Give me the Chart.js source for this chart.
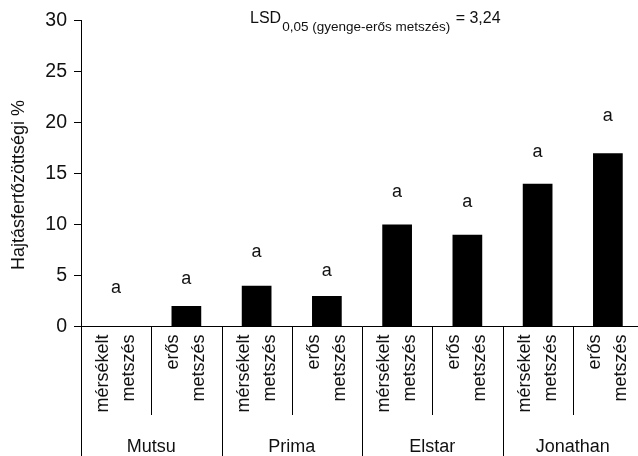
<!DOCTYPE html>
<html>
<head>
<meta charset="utf-8">
<title>Hajtásfertőzöttség</title>
<script src="https://cdn.jsdelivr.net/npm/chart.js@4.4.1/dist/chart.umd.min.js"></script>
<style>
  html, body { margin: 0; padding: 0; background: #fff; overflow: hidden; }
  #wrap { position: relative; width: 638px; height: 456px; overflow: hidden; }
  #wrap canvas { position: absolute; left: 0; top: 0; }
</style>
</head>
<body>
<div id="wrap"><canvas id="chart" width="643" height="456"></canvas></div>
<script>
// Cultivars and pruning treatments (two bars per cultivar)
const cultivars = ['Mutsu', 'Prima', 'Elstar', 'Jonathan'];
const treatments = [['mérsékelt', 'metszés'], ['erős', 'metszés']];
// Shoot infection, %
const infection = [0, 2, 4, 3, 10, 9, 14, 17];
// Significance letters and the level (in %) where each one sits
const letters = ['a', 'a', 'a', 'a', 'a', 'a', 'a', 'a'];
const letterLevels = [3.3, 4.2, 6.8, 5.0, 12.7, 11.7, 16.6, 20.2];
const yTicks = [0, 5, 10, 15, 20, 25, 30];

const FONT = '"Liberation Sans", Arial, sans-serif';
const INK = '#111';

const labels = cultivars.flatMap(() => treatments);

// Group names, separators, letters, axis title and the LSD note
const decor = {
  id: 'decor',
  afterDraw(chart) {
    const { ctx, chartArea } = chart;
    const xs = chart.scales.x;
    const ys = chart.scales.y;
    const bottom = chart.height;
    const n = labels.length;
    const step = xs.getPixelForValue(1) - xs.getPixelForValue(0);

    ctx.save();
    ctx.strokeStyle = '#000';
    ctx.lineWidth = 1;
    for (let i = 0; i <= n; i++) {
      const bx = Math.round(xs.getPixelForValue(i) - step / 2) + 0.5;
      const end = i % 2 === 0 ? bottom : 415;
      ctx.beginPath();
      ctx.moveTo(bx, chartArea.bottom);
      ctx.lineTo(bx, end);
      ctx.stroke();
    }

    ctx.fillStyle = INK;
    ctx.font = '18px ' + FONT;
    ctx.textAlign = 'center';
    ctx.textBaseline = 'alphabetic';
    cultivars.forEach((name, g) => {
      const cx = (xs.getPixelForValue(2 * g) + xs.getPixelForValue(2 * g + 1)) / 2;
      ctx.fillText(name, cx, 451.5);
    });

    letters.forEach((l, i) => {
      ctx.fillText(l, xs.getPixelForValue(i), ys.getPixelForValue(letterLevels[i]));
    });

    // y axis title
    ctx.save();
    ctx.translate(24, 185);
    ctx.rotate(-Math.PI / 2);
    ctx.fillText('Hajtásfertőzöttségi %', 0, 0);
    ctx.restore();

    // LSD note with subscript
    ctx.textAlign = 'left';
    let tx = 250;
    ctx.font = '16px ' + FONT;
    ctx.fillText('LSD', tx, 22.5);
    tx += ctx.measureText('LSD').width + 1;
    ctx.font = '13.5px ' + FONT;
    const sub = '0,05 (gyenge-erős metszés)';
    ctx.fillText(sub, tx, 30.5);
    tx += ctx.measureText(sub).width;
    ctx.font = '16px ' + FONT;
    ctx.fillText(' = 3,24', tx + 1, 22.5);
    ctx.restore();
  }
};

new Chart(document.getElementById('chart'), {
  type: 'bar',
  data: {
    labels: labels,
    datasets: [{
      data: infection,
      backgroundColor: '#000',
      borderWidth: 0,
      barPercentage: 0.423,
      categoryPercentage: 1
    }]
  },
  options: {
    responsive: false,
    animation: false,
    layout: { padding: { top: 20.7, right: 0, bottom: 0, left: 0 } },
    plugins: {
      legend: { display: false },
      tooltip: { enabled: false }
    },
    scales: {
      x: {
        grid: { display: false, drawTicks: false },
        border: { display: true, color: '#000', width: 1 },
        ticks: {
          autoSkip: false,
          minRotation: 90,
          maxRotation: 90,
          padding: 8,
          labelOffset: -13,
          color: INK,
          font: { family: FONT, size: 18, lineHeight: 26 / 18 }
        },
        afterFit(scale) {
          scale.height = 129.5;
          scale.paddingLeft = 0;
          scale.paddingRight = 0;
        }
      },
      y: {
        min: 0,
        max: 30,
        afterBuildTicks(scale) { scale.ticks = yTicks.map(v => ({ value: v })); },
        grid: { display: true, drawOnChartArea: false, drawTicks: true, tickLength: 7, color: '#000' },
        border: { display: true, color: '#000', width: 1 },
        ticks: {
          padding: 7,
          color: INK,
          font: { family: FONT, size: 19.5 }
        },
        afterFit(scale) { scale.width = 81; }
      }
    }
  },
  plugins: [decor]
});
</script>
</body>
</html>
